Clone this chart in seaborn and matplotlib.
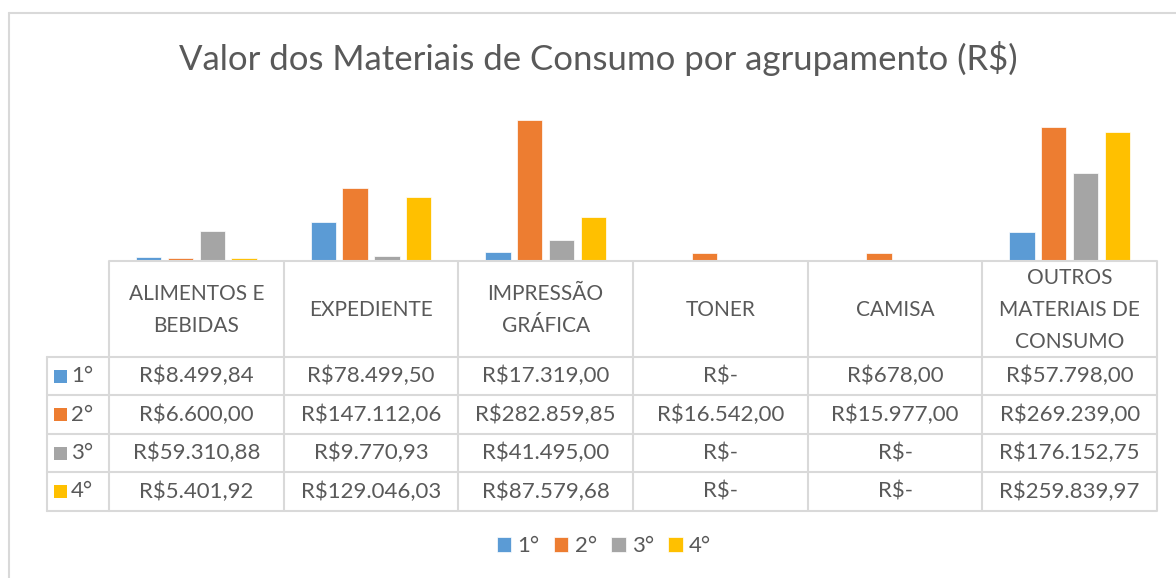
import matplotlib
matplotlib.use("Agg")
import matplotlib.pyplot as plt
import matplotlib.transforms as mtransforms
from matplotlib.patches import Rectangle
import seaborn as sns
import pandas as pd

categories = ["ALIMENTOS E\nBEBIDAS", "EXPEDIENTE", "IMPRESSÃO\nGRÁFICA", "TONER", "CAMISA",
              "OUTROS\nMATERIAIS DE\nCONSUMO"]
series_names = ["1°", "2°", "3°", "4°"]
s1 = [8499.84, 78499.50, 17319.00, 0.0, 678.00, 57798.00]
s2 = [6600.00, 147112.06, 282859.85, 16542.00, 15977.00, 269239.00]
s3 = [59310.88, 9770.93, 41495.00, 0.0, 0.0, 176152.75]
s4 = [5401.92, 129046.03, 87579.68, 0.0, 0.0, 259839.97]
colors = ["#5B9BD5", "#ED7D31", "#A5A5A5", "#FFC000"]
title = "Valor dos Materiais de Consumo por agrupamento (R$)"

series_vals = [s1, s2, s3, s4]
rows = []
for name, vals in zip(series_names, series_vals):
    for c, v in zip(categories, vals):
        rows.append({"cat": c, "serie": name, "valor": v})
df = pd.DataFrame(rows)


def fmt(v):
    if v == 0:
        return "R$-"
    s = f"{v:,.2f}"
    s = s.replace(",", "X").replace(".", ",").replace("X", ".")
    return "R$" + s


sns.set_theme(style="white")
plt.rcParams["font.family"] = ["Lato", "DejaVu Sans"]
TXT = "#595959"
GRID = "#D9D9D9"
FS = 16
FSH = 15

W, H = 1176, 578
fig = plt.figure(figsize=(W / 100, H / 100), dpi=100)
fig.patch.set_facecolor("white")

ax_left, ax_right, ax_top, ax_bot = 109, 1157, 111.5, 261
ax = fig.add_axes([ax_left / W, 1 - ax_bot / H, (ax_right - ax_left) / W, (ax_bot - ax_top) / H])
sns.barplot(data=df, x="cat", y="valor", hue="serie", palette=colors, order=categories,
            hue_order=series_names, width=0.727, gap=0.2, ax=ax, edgecolor="white",
            linewidth=0.5, saturation=1, legend=True)
ax.set_xlim(-0.5, len(categories) - 0.5)
ax.set_ylim(0, 300000)
for sp in ax.spines.values():
    sp.set_visible(False)
ax.set_xticks([])
ax.set_yticks([])
ax.set_xlabel("")
ax.set_ylabel("")
handles, labels = ax.get_legend_handles_labels()
ax.get_legend().remove()

toppx = mtransforms.Affine2D().scale(1 / W, -1 / H).translate(0, 1) + fig.transFigure
blend = mtransforms.blended_transform_factory(ax.transData, toppx)

fig.add_artist(plt.Line2D([9, 9], [13, H], transform=toppx, color=GRID, lw=1.5))
fig.add_artist(plt.Line2D([9, W], [13, 13], transform=toppx, color=GRID, lw=1.5))

fig.text(598 / W, 1 - 58 / H, title, ha="center", va="center", fontsize=25, color=TXT)

header_top, header_bot = 261, 357
row_h = 38.4
n = len(categories)
lw = 1.5
row_tops = [header_bot + i * row_h for i in range(len(series_names) + 1)]
table_bot = row_tops[-1]
key_left = 47

for i in range(n + 1):
    ax.plot([i - 0.5, i - 0.5], [header_top, table_bot], transform=blend, color=GRID, lw=lw,
            clip_on=False, solid_capstyle="butt")
ax.plot([-0.5, n - 0.5], [header_top, header_top], transform=blend, color=GRID, lw=lw, clip_on=False)
for y in row_tops:
    ax.plot([-0.5, n - 0.5], [y, y], transform=blend, color=GRID, lw=lw, clip_on=False)
    fig.add_artist(plt.Line2D([key_left, ax_left], [y, y], transform=toppx, color=GRID, lw=lw))
fig.add_artist(plt.Line2D([key_left, key_left], [header_bot, table_bot], transform=toppx,
                          color=GRID, lw=lw))

for i, c in enumerate(categories):
    ax.text(i, (header_top + header_bot) / 2 + 1, c, transform=blend, ha="center", va="center",
            fontsize=FSH, color=TXT, linespacing=1.72, clip_on=False)

for r, (name, vals) in enumerate(zip(series_names, series_vals)):
    yc = row_tops[r] + row_h / 2
    for i, v in enumerate(vals):
        ax.text(i, yc, fmt(v), transform=blend, ha="center", va="center", fontsize=FS,
                color=TXT, clip_on=False)
    fig.add_artist(Rectangle((54, yc - 6.5), 13, 13, transform=toppx, facecolor=colors[r],
                             edgecolor="none"))
    fig.text(71 / W, 1 - yc / H, name, ha="left", va="center", fontsize=FS, color=TXT)

leg = fig.legend(handles, labels, loc="center", bbox_to_anchor=(604 / W, 1 - 546 / H), ncol=4,
                 frameon=False, fontsize=FS, handlelength=0.65, handleheight=0.65,
                 handletextpad=0.28, columnspacing=0.65, labelcolor=TXT)

fig.savefig("out.png", dpi=100, facecolor="white")
